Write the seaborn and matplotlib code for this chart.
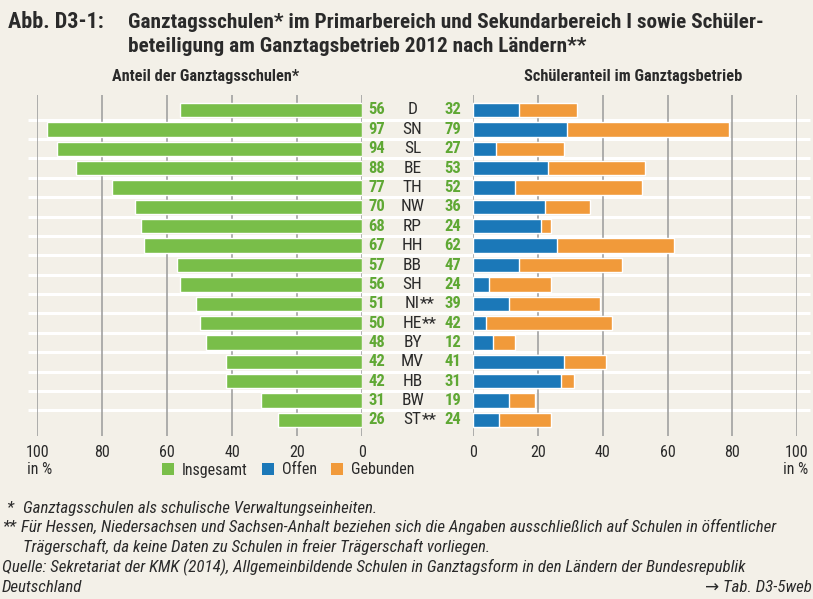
import matplotlib
matplotlib.use("Agg")
import matplotlib.pyplot as plt
import matplotlib.font_manager as fm
from matplotlib.patches import Patch
import seaborn as sns
import pandas as pd

# ---------------- data ----------------
states = ["D", "SN", "SL", "BE", "TH", "NW", "RP", "HH", "BB", "SH",
          "NI**", "HE**", "BY", "MV", "HB", "BW", "ST**"]
insgesamt = [56, 97, 94, 88, 77, 70, 68, 67, 57, 56, 51, 50, 48, 42, 42, 31, 26]
schueler_total = [32, 79, 27, 53, 52, 36, 24, 62, 47, 24, 39, 42, 12, 41, 31, 19, 24]
offen = [14, 29, 7, 23, 13, 22, 21, 26, 14, 5, 11, 4, 6, 28, 27, 11, 8]
gebunden = [18, 50, 21, 30, 39, 14, 3, 36, 32, 19, 28, 39, 7, 13, 4, 8, 16]
ticks = [0, 20, 40, 60, 80, 100]

# ---------------- fonts ----------------
sns.set_theme(style="white")
entries = fm.fontManager.ttflist
avail = {f.name for f in entries}
family, stretch = None, "normal"
for c in ["Roboto Condensed", "Open Sans Condensed", "Noto Sans Condensed",
          "Liberation Sans Narrow", "DejaVu Sans Condensed", "Lato Condensed"]:
    if c in avail:
        family = c
        break
if family is None:
    for n in sorted(avail):
        if "Condensed" in n or "Narrow" in n:
            family = n
            break
if family is None:
    for f in entries:
        if str(f.stretch) in ("condensed", "semi-condensed", "500", "600") or \
                (isinstance(f.stretch, int) and f.stretch < 500):
            family, stretch = f.name, "condensed"
            break
if family is None:
    family = "Roboto" if "Roboto" in avail else "Liberation Sans"
plt.rcParams["font.family"] = [family, "DejaVu Sans"]
plt.rcParams["font.stretch"] = stretch

BG = "#f3f0e8"
GREEN = "#79be49"
GREEN_TXT = "#5fa834"
BLUE = "#1b78b8"
ORANGE = "#f19a3a"
GRID = "#9a9a9a"
TXT = "#2a2a2a"

W, H = 813, 599
fig = plt.figure(figsize=(W / 100, H / 100), dpi=100, facecolor=BG)
renderer = fig.canvas.get_renderer()


def fx(px):
    return px / W


def fy(py):
    return 1 - py / H


def fit(t, target_w):
    """scale a text's font size so that it spans target_w pixels"""
    w = t.get_window_extent(renderer).width
    t.set_fontsize(t.get_fontsize() * target_w / w)
    return t.get_fontsize()


top_px, bot_px = 94.5, 435.5
ylim = (16.8, -0.8)
ax_h = (bot_px - top_px) / H

# background axes for the white row separators
axbg = fig.add_axes([0, fy(bot_px), 1, ax_h])
axbg.set_xlim(0, W)
axbg.set_ylim(*ylim)
axbg.axis("off")
for i in range(len(states) - 1):
    axbg.hlines(i + 0.5, 28, 810, color="white", lw=2.2, zorder=0)

df = pd.DataFrame({"state": states, "ins": insgesamt,
                   "offen": offen, "geb": gebunden})
df["total"] = df["offen"] + df["geb"]

# ---------------- left panel ----------------
axl = fig.add_axes([fx(37.3), fy(bot_px), fx(362) - fx(37.3), ax_h])
axl.patch.set_alpha(0)
sns.barplot(data=df, x="ins", y="state", color=GREEN, saturation=1,
            width=0.74, ax=axl, zorder=3)
axl.set_xlim(100, 0)
axl.set_ylim(*ylim)

# ---------------- right panel ----------------
axr = fig.add_axes([fx(473.3), fy(bot_px), fx(797) - fx(473.3), ax_h])
axr.patch.set_alpha(0)
sns.barplot(data=df, x="total", y="state", color=ORANGE, saturation=1,
            width=0.74, ax=axr, zorder=3)
sns.barplot(data=df, x="offen", y="state", color=BLUE, saturation=1,
            width=0.74, ax=axr, zorder=4)
axr.set_xlim(0, 100)
axr.set_ylim(*ylim)

for ax in (axl, axr):
    ax.set_xlabel("")
    ax.set_ylabel("")
    ax.set_yticks([])
    ax.set_xticks(ticks)
    ax.set_xticklabels([str(t) for t in ticks])
    ax.tick_params(axis="x", length=0, pad=7, labelsize=11.5, colors=TXT)
    for s in ax.spines.values():
        s.set_visible(False)
    for t in ticks:
        ax.axvline(t, color=GRID, lw=1.1, zorder=1)

# ---------------- middle labels ----------------
axm = fig.add_axes([fx(362), fy(bot_px), fx(473.3) - fx(362), ax_h])
axm.set_xlim(362, 473.3)
axm.set_ylim(*ylim)
axm.axis("off")
for i, (st, v, s) in enumerate(zip(states, insgesamt, schueler_total)):
    axm.text(377, i, str(v), ha="center", va="center", color=GREEN_TXT,
             fontsize=12, fontweight="bold")
    axm.text(453, i, str(s), ha="center", va="center", color=GREEN_TXT,
             fontsize=12, fontweight="bold")
    base = st.rstrip("*")
    stars = st[len(base):]
    t = axm.text(412.5, i, base, ha="center", va="center", color=TXT,
                 fontsize=12.5)
    if stars:
        axm.annotate(stars, xy=(1, 0.5), xycoords=t, xytext=(0, 0),
                     textcoords="offset points", ha="left", va="center",
                     color=TXT, fontsize=12.5)

# ---------------- titles ----------------
t1 = fig.text(fx(128), fy(22),
              "Ganztagsschulen* im Primarbereich und Sekundarbereich I sowie Schüler-",
              fontsize=14, fontweight="bold", color=TXT, va="center", ha="left")
tsize = fit(t1, 637)
fig.text(fx(128), fy(46), "beteiligung am Ganztagsbetrieb 2012 nach Ländern**",
         fontsize=tsize, fontweight="bold", color=TXT, va="center", ha="left")
fig.text(fx(8), fy(22), "Abb. D3-1:", fontsize=tsize * 1.04, fontweight="bold",
         color=TXT, va="center", ha="left")

h1 = fig.text(fx(206), fy(76), "Anteil der Ganztagsschulen*", fontsize=10,
              fontweight="bold", color=TXT, va="center", ha="center")
hsize = fit(h1, 186)
fig.text(fx(633), fy(76), "Schüleranteil im Ganztagsbetrieb", fontsize=hsize,
         fontweight="bold", color=TXT, va="center", ha="center")

# ---------------- units & legend ----------------
fig.text(fx(27), fy(469), "in %", fontsize=11.5, color=TXT, va="center", ha="left")
fig.text(fx(808), fy(469), "in %", fontsize=11.5, color=TXT, va="center", ha="right")

handles = [Patch(facecolor=GREEN, edgecolor="none"),
           Patch(facecolor=BLUE, edgecolor="none"),
           Patch(facecolor=ORANGE, edgecolor="none")]
fig.legend(handles, ["Insgesamt", "Offen", "Gebunden"], ncol=3,
           loc="center", bbox_to_anchor=(fx(288), fy(470)), frameon=False,
           handlelength=0.75, handleheight=0.75, handletextpad=0.5,
           columnspacing=0.9, fontsize=11.5, labelcolor=TXT)

# ---------------- footnotes ----------------
fn = dict(fontsize=10, style="italic", color=TXT, va="center")
f2 = fig.text(fx(21), fy(527),
              "Für Hessen, Niedersachsen und Sachsen-Anhalt beziehen sich die Angaben "
              "ausschließlich auf Schulen in öffentlicher", ha="left", **fn)
fsize = fit(f2, 775 - 21)
fn["fontsize"] = fsize
fig.text(fx(6), fy(508), "*", ha="left", **fn)
fig.text(fx(23), fy(508), "Ganztagsschulen als schulische Verwaltungseinheiten.",
         ha="left", **fn)
fig.text(fx(2), fy(527), "**", ha="left", **fn)
fig.text(fx(23), fy(547),
         "Trägerschaft, da keine Daten zu Schulen in freier Trägerschaft vorliegen.",
         ha="left", **fn)
fig.text(fx(2), fy(567),
         "Quelle: Sekretariat der KMK (2014), Allgemeinbildende Schulen in "
         "Ganztagsform in den Ländern der Bundesrepublik", ha="left", **fn)
fig.text(fx(2), fy(587), "Deutschland", ha="left", **fn)
fig.text(fx(812), fy(587), "→ Tab. D3-5web", ha="right", **fn)

fig.savefig("out.png", dpi=100, facecolor=BG)
